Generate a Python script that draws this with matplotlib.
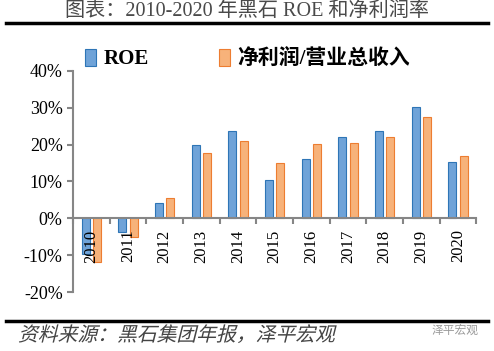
import matplotlib

matplotlib.use("Agg")
import matplotlib.pyplot as plt
import numpy as np
from matplotlib.font_manager import FontProperties
from matplotlib.lines import Line2D
from matplotlib.patches import PathPatch
from matplotlib.textpath import TextPath
from matplotlib.ticker import FuncFormatter, FixedLocator
from matplotlib.transforms import Affine2D

years = ["2010", "2011", "2012", "2013", "2014", "2015", "2016", "2017", "2018", "2019", "2020"]
roe = [-9.7, -3.7, 4.2, 20.0, 23.8, 10.4, 16.0, 22.2, 23.6, 30.3, 15.2]
net_margin = [-11.9, -5.0, 5.4, 17.6, 21.1, 15.0, 20.1, 20.4, 22.2, 27.6, 16.9]

SERIF = ["Liberation Serif", "Noto Sans CJK SC"]
CJK = ["Noto Sans CJK SC", "DejaVu Sans"]
AXIS_GRAY = "#868686"

fig = plt.figure(figsize=(4.94, 3.51), dpi=100)
ax = fig.add_axes([0.148, 0.168, 0.816, 0.630])

x = np.arange(len(years))
w = 0.22
off = 0.155
ax.bar(x - off, roe, w, color="#6FA3D8", edgecolor="#2E75B6", linewidth=0.8, label="ROE")
ax.bar(x + off, net_margin, w, color="#F7B27A", edgecolor="#ED7D31", linewidth=0.8, label="净利润/营业总收入")

ax.set_xlim(-0.5, len(years) - 0.5)
ax.set_ylim(-20, 40)
ax.set_yticks(np.arange(-20, 41, 10))
ax.yaxis.set_major_formatter(FuncFormatter(lambda v, _: f"{v:.0f}%"))

for s in ("top", "right"):
    ax.spines[s].set_visible(False)
ax.spines["left"].set_color(AXIS_GRAY)
ax.spines["left"].set_linewidth(1.5)
ax.spines["bottom"].set_position(("data", 0))
ax.spines["bottom"].set_color(AXIS_GRAY)
ax.spines["bottom"].set_linewidth(1.5)

ax.set_xticks(x)
ax.set_xticklabels(years, rotation=90, family=SERIF, fontsize=12)
ax.xaxis.set_minor_locator(FixedLocator(np.arange(-0.5, len(years), 1.0)))
ax.tick_params(axis="x", which="major", length=0, pad=8)
ax.tick_params(axis="x", which="minor", length=4, width=1.5, color=AXIS_GRAY, direction="out")
ax.tick_params(axis="y", length=4, width=1.5, color=AXIS_GRAY, direction="out")
for t in ax.get_yticklabels():
    t.set_family(SERIF)
    t.set_fontsize(13)

ax.legend(
    loc="upper left",
    bbox_to_anchor=(0.135, 0.915),
    bbox_transform=fig.transFigure,
    ncol=2,
    frameon=False,
    handlelength=0.5,
    handleheight=0.9,
    handletextpad=0.35,
    columnspacing=3.4,
    prop={"family": SERIF, "weight": "bold", "size": 15},
)

fig.text(0.5, 0.968, "图表：2010-2020 年黑石 ROE 和净利润率", ha="center", va="center",
         family=SERIF, fontsize=14.5, color="#4a4a4a")
fig.add_artist(Line2D([0.012, 0.988], [0.934, 0.934], color="black", linewidth=2.5))
fig.add_artist(Line2D([0.012, 0.988], [0.086, 0.086], color="black", linewidth=2.5))

# italic source line: CJK font has no italic, so shear the glyph outlines
src = TextPath((0, 0), "资料来源：黑石集团年报，泽平宏观", size=19.8,
               prop=FontProperties(family="Noto Sans CJK SC", weight="light"))
fig.add_artist(PathPatch(src, transform=Affine2D().skew_deg(14, 0).translate(18, 10),
                         facecolor="#444444", edgecolor="none"))
fig.text(0.968, 0.060, "泽平宏观", ha="right", va="center", family=CJK, fontsize=8.5, color="#9a9a9a")

fig.savefig("out.png", dpi=100)
